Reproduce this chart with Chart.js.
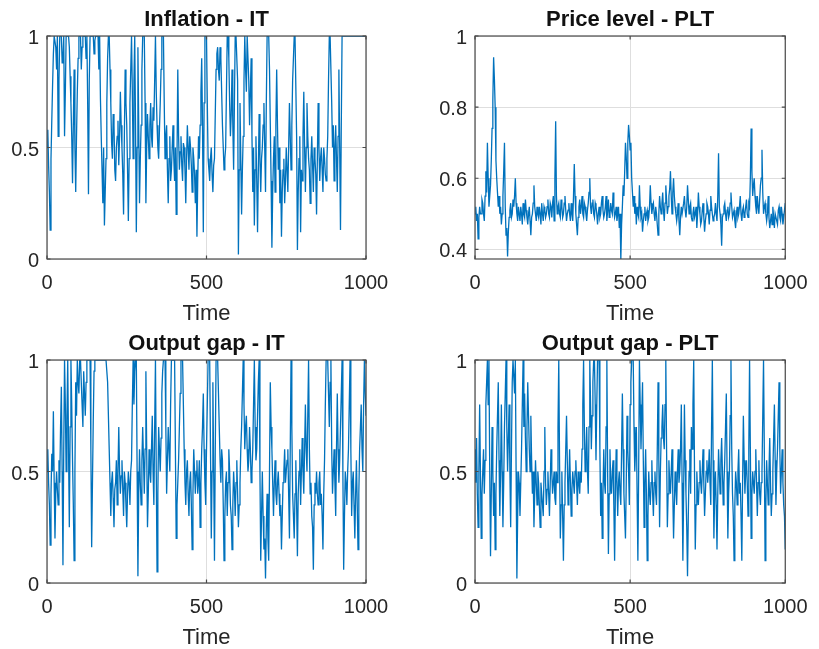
<!DOCTYPE html>
<html>
<head>
<meta charset="utf-8">
<script src="https://cdn.jsdelivr.net/npm/chart.js@4.4.1/dist/chart.umd.min.js"></script>
<style>
  html, body { margin: 0; padding: 0; background: #fff; width: 819px; height: 649px; overflow: hidden; }
  canvas { position: absolute; }
</style>
</head>
<body>
<canvas id="p1" width="410" height="330" style="left:0;top:0;width:410px;height:330px"></canvas>
<canvas id="p2" width="410" height="330" style="left:410px;top:0;width:410px;height:330px"></canvas>
<canvas id="p3" width="410" height="330" style="left:0;top:324px;width:410px;height:330px"></canvas>
<canvas id="p4" width="410" height="330" style="left:410px;top:324px;width:410px;height:330px"></canvas>
<script>
// Simulated paths, sampled every 2.5 periods from t = 0 to t = 1000 (one row = 50 periods)
const timeStep = 2.5;

const inflationIT = [
  0.5, 0.58, 0.42, 0.3, 0.13, 0.45, 0.62, 0.78, 0.92, 1, 1, 0.95, 0.85, 1, 0.55, 0.8, 1, 1, 1, 0.88,
  0.9, 1, 0.55, 0.75, 1, 1, 1, 1, 0.95, 0.82, 0.7, 0.55, 0.34, 0.6, 0.85, 0.5, 0.3, 0.55, 0.75, 0.9,
  1, 1, 1, 0.85, 0.95, 1, 1, 1, 1, 0.9, 1, 0.7, 0.29, 0.8, 1, 1, 1, 1, 1, 0.92,
  0.98, 1, 1, 1, 1, 0.85, 1, 0.72, 0.55, 0.4, 0.25, 0.5, 0.15, 0.3, 0.45, 0.7, 0.9, 1, 1, 0.85,
  0.7, 0.52, 0.45, 0.65, 0.6, 0.4, 0.35, 0.5, 0.55, 0.62, 0.42, 0.55, 0.75, 0.6, 0.5, 0.38, 0.2, 0.55, 0.85, 0.7,
  0.6, 0.4, 0.17, 0.45, 0.7, 0.85, 1, 0.75, 0.45, 0.8, 1, 0.6, 0.12, 0.5, 0.95, 0.6, 0.25, 0.45, 0.6, 0.85,
  1, 1, 1, 0.7, 0.25, 0.5, 0.65, 0.55, 0.45, 0.6, 0.7, 0.55, 0.5, 0.68, 0.62, 0.8, 1, 0.75, 0.6, 0.5,
  0.45, 0.58, 0.7, 0.85, 1, 1, 1, 0.7, 0.45, 0.55, 0.6, 0.4, 0.25, 0.45, 0.55, 0.35, 0.4, 0.5, 0.6, 0.45,
  0.35, 0.5, 0.2, 0.45, 0.85, 0.55, 0.4, 0.48, 0.55, 0.42, 0.35, 0.52, 0.5, 0.4, 0.25, 0.45, 0.6, 0.5, 0.4, 0.55,
  0.5, 0.42, 0.3, 0.5, 0.45, 0.38, 0.25, 0.4, 0.1, 0.35, 0.55, 0.45, 0.6, 0.75, 0.9, 0.6, 0.12, 0.7, 1, 1,
  1, 0.7, 0.45, 0.4, 0.35, 0.45, 0.5, 0.38, 0.3, 0.42, 0.45, 0.65, 0.85, 0.92, 0.95, 0.85, 0.8, 0.95, 0.9, 0.75,
  0.6, 0.5, 0.4, 0.45, 0.5, 0.75, 1, 1, 0.9, 0.7, 0.55, 0.65, 0.85, 0.6, 0.4, 0.7, 1, 1, 1, 0.8,
  0.02, 0.4, 0.7, 0.45, 0.2, 0.4, 0.55, 0.8, 1, 0.85, 0.75, 1, 1, 0.8, 0.6, 0.75, 0.9, 0.55, 0.3, 0.5,
  0.15, 0.4, 0.55, 0.35, 0.12, 0.4, 0.65, 0.45, 0.3, 0.45, 0.5, 0.6, 0.7, 0.5, 0.3, 0.7, 1, 1, 1, 0.85,
  0.6, 0.35, 0.05, 0.3, 0.45, 0.55, 0.3, 0.6, 0.85, 0.6, 0.4, 0.5, 0.25, 0.4, 0.1, 0.3, 0.4, 0.45, 0.25, 0.35,
  0.5, 0.4, 0.3, 0.5, 0.7, 0.55, 0.4, 0.6, 0.8, 0.9, 1, 1, 1, 0.55, 0.04, 0.3, 0.45, 0.55, 0.12, 0.4,
  0.35, 0.55, 0.75, 0.5, 0.3, 0.5, 0.7, 0.55, 0.45, 0.4, 0.25, 0.45, 0.55, 0.42, 0.3, 0.5, 0.45, 0.38, 0.2, 0.45,
  0.7, 0.5, 0.35, 0.45, 0.5, 0.4, 0.3, 0.5, 0.45, 0.38, 0.35, 0.45, 0.55, 0.8, 1, 1, 1, 0.7, 0.5, 0.6,
  0.35, 0.5, 0.6, 0.45, 0.3, 0.55, 0.85, 0.5, 0.13, 0.6, 1, 1, 1, 1, 1, 1, 1, 1, 1, 1,
  1, 1, 1, 1, 1, 1, 1, 1, 1, 1, 1, 1, 1, 1, 1, 1, 1, 1, 1, 1,
  1
];

const priceLevelPLT = [
  0.5, 0.52, 0.48, 0.5, 0.43, 0.49, 0.52, 0.5, 0.5, 0.54, 0.53, 0.5, 0.48, 0.55, 0.62, 0.56, 0.7, 0.6, 0.52, 0.55,
  0.58, 0.65, 0.74, 0.82, 0.94, 0.88, 0.8, 0.65, 0.6, 0.56, 0.52, 0.55, 0.5, 0.52, 0.47, 0.5, 0.55, 0.62, 0.7, 0.52,
  0.44, 0.46, 0.38, 0.45, 0.49, 0.51, 0.53, 0.49, 0.5, 0.54, 0.52, 0.55, 0.6, 0.53, 0.5, 0.48, 0.52, 0.5, 0.48, 0.52,
  0.5, 0.47, 0.53, 0.5, 0.49, 0.54, 0.51, 0.49, 0.47, 0.5, 0.52, 0.48, 0.44, 0.49, 0.5, 0.53, 0.58, 0.52, 0.5, 0.48,
  0.52, 0.5, 0.49, 0.52, 0.5, 0.47, 0.53, 0.5, 0.48, 0.52, 0.51, 0.49, 0.5, 0.52, 0.54, 0.5, 0.49, 0.53, 0.52, 0.49,
  0.53, 0.55, 0.48, 0.6, 0.76, 0.55, 0.5, 0.52, 0.53, 0.5, 0.49, 0.54, 0.52, 0.49, 0.5, 0.53, 0.55, 0.51, 0.48, 0.5,
  0.51, 0.53, 0.5, 0.48, 0.53, 0.5, 0.48, 0.55, 0.64, 0.55, 0.5, 0.47, 0.44, 0.49, 0.52, 0.54, 0.5, 0.52, 0.55, 0.5,
  0.49, 0.53, 0.52, 0.5, 0.48, 0.51, 0.53, 0.56, 0.6, 0.52, 0.5, 0.53, 0.54, 0.5, 0.49, 0.53, 0.52, 0.5, 0.47, 0.5,
  0.52, 0.49, 0.5, 0.53, 0.55, 0.51, 0.49, 0.5, 0.52, 0.55, 0.48, 0.51, 0.54, 0.49, 0.5, 0.53, 0.51, 0.5, 0.56, 0.52,
  0.49, 0.5, 0.52, 0.48, 0.5, 0.52, 0.46, 0.5, 0.37, 0.47, 0.52, 0.58, 0.55, 0.62, 0.7, 0.66, 0.6, 0.7, 0.75, 0.72,
  0.68, 0.7, 0.6, 0.56, 0.52, 0.55, 0.5, 0.53, 0.47, 0.52, 0.5, 0.49, 0.58, 0.52, 0.49, 0.5, 0.45, 0.48, 0.5, 0.52,
  0.48, 0.5, 0.51, 0.48, 0.49, 0.52, 0.58, 0.53, 0.5, 0.52, 0.53, 0.5, 0.48, 0.52, 0.5, 0.47, 0.44, 0.5, 0.55, 0.52,
  0.5, 0.53, 0.56, 0.51, 0.48, 0.53, 0.58, 0.54, 0.5, 0.52, 0.55, 0.57, 0.62, 0.55, 0.5, 0.56, 0.6, 0.55, 0.52, 0.5,
  0.48, 0.5, 0.53, 0.48, 0.44, 0.49, 0.52, 0.5, 0.5, 0.53, 0.55, 0.51, 0.49, 0.52, 0.58, 0.54, 0.5, 0.52, 0.53, 0.49,
  0.48, 0.5, 0.52, 0.49, 0.5, 0.52, 0.46, 0.5, 0.56, 0.52, 0.5, 0.47, 0.48, 0.51, 0.53, 0.49, 0.45, 0.48, 0.5, 0.53,
  0.52, 0.5, 0.47, 0.51, 0.55, 0.52, 0.5, 0.48, 0.49, 0.5, 0.53, 0.5, 0.48, 0.55, 0.67, 0.52, 0.5, 0.47, 0.41, 0.49,
  0.5, 0.52, 0.53, 0.5, 0.48, 0.51, 0.52, 0.49, 0.5, 0.53, 0.56, 0.52, 0.49, 0.5, 0.51, 0.48, 0.46, 0.5, 0.52, 0.49,
  0.5, 0.52, 0.55, 0.5, 0.48, 0.51, 0.52, 0.49, 0.5, 0.52, 0.54, 0.5, 0.49, 0.53, 0.52, 0.6, 0.74, 0.62, 0.55, 0.58,
  0.6, 0.55, 0.52, 0.5, 0.55, 0.52, 0.5, 0.54, 0.58, 0.6, 0.68, 0.56, 0.5, 0.52, 0.53, 0.5, 0.48, 0.5, 0.55, 0.49,
  0.46, 0.48, 0.5, 0.47, 0.52, 0.49, 0.46, 0.5, 0.5, 0.48, 0.47, 0.51, 0.52, 0.49, 0.48, 0.52, 0.5, 0.47, 0.49, 0.51,
  0.53
];

const outputGapIT = [
  0.5, 0.6, 0.45, 0.35, 0.17, 0.4, 0.58, 0.5, 0.77, 0.45, 0.2, 0.4, 0.5, 0.42, 0.35, 0.55, 0.45, 0.7, 0.88, 0.5,
  0.08, 0.6, 1, 0.8, 0.5, 0.75, 1, 0.6, 0.25, 0.7, 1, 0.8, 0.55, 0.35, 0.1, 0.5, 0.9, 0.75, 1, 0.9,
  0.85, 1, 1, 0.9, 0.8, 0.7, 0.95, 0.85, 0.75, 0.9, 1, 1, 1, 1, 1, 0.6, 0.16, 0.45, 0.73, 0.95,
  1, 1, 1, 1, 1, 1, 1, 1, 1, 1, 1, 1, 1, 1, 1, 1, 0.9, 0.75, 0.6, 0.45,
  0.3, 0.45, 0.5, 0.38, 0.25, 0.42, 0.45, 0.55, 0.35, 0.5, 0.7, 0.5, 0.4, 0.48, 0.55, 0.42, 0.3, 0.5, 0.45, 0.35,
  0.25, 0.4, 0.5, 0.45, 0.35, 0.5, 0.55, 0.8, 1, 0.8, 0.95, 1, 1, 0.5, 0.03, 0.4, 0.6, 0.45, 0.35, 0.55,
  0.7, 0.55, 0.4, 0.6, 0.95, 0.6, 0.25, 0.4, 0.6, 0.5, 0.45, 0.6, 0.75, 0.5, 0.35, 0.7, 1, 0.5, 0.05, 0.4,
  0.7, 0.6, 0.5, 0.65, 0.85, 0.95, 1, 1, 1, 0.7, 0.4, 0.55, 0.7, 0.6, 0.5, 0.8, 1, 1, 1, 1,
  1, 0.6, 0.2, 0.35, 0.45, 0.55, 0.7, 0.85, 1, 1, 1, 0.8, 0.6, 0.45, 0.35, 0.5, 0.55, 0.4, 0.3, 0.45,
  0.5, 0.35, 0.15, 0.4, 0.6, 0.5, 0.4, 0.5, 0.55, 0.4, 0.45, 0.55, 0.25, 0.45, 0.6, 0.7, 0.85, 0.6, 0.45, 0.35,
  0.6, 0.8, 1, 1, 1, 0.6, 0.2, 0.5, 0.9, 0.5, 0.1, 0.6, 1, 1, 1, 0.85, 0.7, 0.55, 0.45, 0.6,
  0.55, 0.35, 0.1, 0.3, 0.45, 0.5, 0.3, 0.45, 0.6, 0.5, 0.35, 0.3, 0.15, 0.35, 0.5, 0.42, 0.3, 0.45, 0.55, 0.4,
  0.25, 0.35, 0.45, 0.6, 0.7, 0.85, 1, 0.8, 0.6, 0.7, 0.75, 0.6, 0.5, 0.55, 0.7, 0.6, 0.45, 0.5, 0.6, 0.8,
  1, 0.7, 0.55, 0.6, 0.75, 0.9, 1, 0.5, 0.1, 0.3, 0.5, 0.3, 0.15, 0.2, 0.02, 0.25, 0.4, 0.2, 0.1, 0.5,
  0.9, 0.7, 0.6, 0.45, 0.3, 0.45, 0.55, 0.4, 0.35, 0.45, 0.5, 0.4, 0.3, 0.35, 0.15, 0.3, 0.45, 0.5, 0.6, 0.45,
  0.5, 0.55, 0.6, 0.4, 0.2, 0.6, 1, 0.7, 0.4, 0.3, 0.2, 0.4, 0.55, 0.35, 0.12, 0.4, 0.5, 0.6, 0.35, 0.5,
  0.65, 0.5, 0.4, 0.6, 0.8, 0.6, 0.5, 0.75, 1, 0.6, 0.4, 0.45, 0.3, 0.25, 0.06, 0.35, 0.45, 0.4, 0.5, 0.4,
  0.35, 0.45, 0.5, 0.35, 0.4, 0.3, 0.15, 0.4, 0.55, 0.8, 1, 1, 1, 0.85, 0.7, 0.9, 1, 0.6, 0.4, 0.5,
  0.6, 0.45, 0.3, 0.6, 0.85, 0.6, 0.45, 0.55, 0.7, 0.85, 1, 0.5, 0.06, 0.3, 0.5, 0.45, 0.35, 0.5, 0.6, 0.8,
  1, 0.6, 0.3, 0.45, 0.5, 0.35, 0.2, 0.4, 0.55, 0.35, 0.15, 0.4, 0.6, 0.7, 0.8, 0.6, 0.5, 0.8, 1, 0.85,
  0.75
];

const outputGapPLT = [
  0.6, 0.45, 0.65, 0.4, 0.25, 0.5, 0.8, 0.5, 0.2, 0.4, 0.5, 0.6, 0.4, 0.55, 0.8, 0.9, 1, 0.8, 1, 0.5,
  0.12, 0.4, 0.7, 0.5, 0.3, 0.45, 0.15, 0.4, 0.6, 0.75, 0.9, 0.55, 0.3, 0.5, 0.8, 0.5, 0.25, 0.45, 0.7, 0.85,
  1, 0.7, 0.5, 0.65, 0.8, 0.5, 0.25, 0.6, 0.9, 1, 1, 0.85, 1, 0.5, 0.02, 0.3, 0.5, 0.45, 0.3, 0.45,
  0.6, 0.8, 1, 0.7, 0.85, 0.65, 0.5, 0.7, 0.9, 0.75, 0.6, 0.5, 0.75, 0.55, 0.4, 0.5, 0.25, 0.4, 0.55, 0.45,
  0.35, 0.5, 0.45, 0.35, 0.25, 0.45, 0.4, 0.35, 0.3, 0.5, 0.7, 0.45, 0.35, 0.42, 0.5, 0.4, 0.3, 0.45, 0.6, 0.5,
  0.4, 0.45, 0.5, 0.38, 0.35, 0.5, 0.45, 0.7, 1, 0.55, 0.2, 0.35, 0.5, 0.3, 0.1, 0.35, 0.45, 0.6, 0.75, 0.55,
  0.35, 0.45, 0.6, 0.45, 0.3, 0.42, 0.5, 0.45, 0.4, 0.5, 0.55, 0.45, 0.35, 0.5, 0.45, 0.4, 0.5, 0.45, 0.6, 0.8,
  1, 0.7, 0.5, 0.55, 0.7, 0.5, 0.4, 0.7, 1, 0.8, 0.6, 0.75, 0.9, 1, 1, 0.8, 0.55, 0.8, 1, 1,
  1, 0.6, 0.3, 0.45, 0.2, 0.4, 0.6, 0.45, 0.4, 0.7, 1, 0.5, 0.13, 0.4, 0.6, 0.45, 0.4, 0.5, 0.55, 0.35,
  0.1, 0.4, 0.6, 0.45, 0.3, 0.45, 0.5, 0.4, 0.35, 0.6, 0.85, 0.6, 0.4, 0.3, 0.2, 0.45, 0.75, 0.6, 0.5, 0.35,
  0.8, 0.9, 1, 1, 1, 0.7, 0.5, 0.6, 0.7, 0.4, 0.1, 0.5, 1, 0.8, 0.6, 0.75, 0.9, 0.55, 0.25, 0.45,
  0.6, 0.4, 0.1, 0.3, 0.5, 0.4, 0.35, 0.45, 0.55, 0.4, 0.3, 0.45, 0.5, 0.4, 0.35, 0.6, 0.9, 0.55, 0.25, 0.5,
  0.65, 0.7, 0.8, 0.65, 0.6, 0.8, 1, 0.6, 0.25, 0.4, 0.55, 0.45, 0.4, 0.5, 0.6, 0.4, 0.2, 0.35, 0.5, 0.42,
  0.35, 0.5, 0.6, 0.45, 0.5, 0.6, 0.8, 0.45, 0.1, 0.4, 0.8, 0.55, 0.4, 0.25, 0.03, 0.3, 0.5, 0.6, 0.4, 0.7,
  0.6, 0.8, 1, 0.5, 0.15, 0.35, 0.5, 0.4, 0.35, 0.45, 0.55, 0.45, 0.4, 0.5, 0.6, 0.45, 0.3, 0.4, 0.5, 0.55,
  0.45, 0.5, 0.6, 0.45, 0.35, 0.7, 1, 0.55, 0.2, 0.4, 0.5, 0.35, 0.15, 0.4, 0.6, 0.5, 0.4, 0.55, 0.65, 0.5,
  0.35, 0.45, 0.55, 0.7, 0.85, 0.5, 0.2, 0.4, 0.5, 0.75, 1, 0.6, 0.4, 0.3, 0.1, 0.35, 0.5, 0.45, 0.35, 0.5,
  0.6, 0.4, 0.45, 0.3, 0.1, 0.45, 0.75, 0.55, 0.4, 0.5, 0.55, 0.45, 0.3, 0.6, 1, 0.6, 0.2, 0.4, 0.5, 0.45,
  0.4, 0.5, 0.6, 0.45, 0.3, 0.45, 0.55, 0.4, 0.35, 0.45, 0.5, 0.75, 1, 0.6, 0.1, 0.35, 0.55, 0.45, 0.35, 0.5,
  0.65, 0.45, 0.3, 0.4, 0.5, 0.65, 0.8, 0.55, 0.35, 0.5, 0.6, 0.75, 0.9, 0.6, 0.4, 0.5, 0.6, 0.45, 0.35, 0.3,
  0.15
];

// Axis ticks
const timeTicks = [0, 500, 1000];
const timeTickLabels = ['0', '500', '1000'];
const unitTicks = [0, 0.5, 1];
const unitTickLabels = ['0', '0.5', '1'];
const priceTicks = [0.4, 0.6, 0.8, 1];
const priceTickLabels = ['0.4', '0.6', '0.8', '1'];

const FONT = "'Liberation Sans', Arial, Helvetica, sans-serif";
const TEXT = '#262626';
const LINE = '#0072BD';
const GRID = '#dedede';

// Axes box with short inward tick marks on all four sides
const axesBox = {
  id: 'axesBox',
  afterDatasetsDraw(chart) {
    const { ctx, chartArea: a, scales: { x, y } } = chart;
    const len = 3.5;
    ctx.save();
    ctx.strokeStyle = '#4a4a4a';
    ctx.lineWidth = 1.2;
    ctx.beginPath();
    x.ticks.forEach(t => {
      const px = x.getPixelForValue(t.value);
      ctx.moveTo(px, a.bottom); ctx.lineTo(px, a.bottom - len);
      ctx.moveTo(px, a.top); ctx.lineTo(px, a.top + len);
    });
    y.ticks.forEach(t => {
      const py = y.getPixelForValue(t.value);
      ctx.moveTo(a.left, py); ctx.lineTo(a.left + len, py);
      ctx.moveTo(a.right, py); ctx.lineTo(a.right - len, py);
    });
    ctx.stroke();
    ctx.strokeRect(a.left, a.top, a.right - a.left, a.bottom - a.top);
    ctx.restore();
  }
};

function panel(id, title, values, yMin, yTicks, yLabels, layout) {
  const points = values.map((v, i) => ({ x: i * timeStep, y: v }));
  new Chart(document.getElementById(id), {
    type: 'line',
    data: {
      datasets: [{
        data: points,
        borderColor: LINE,
        borderWidth: 1.3,
        pointRadius: 0,
        tension: 0,
        fill: false
      }]
    },
    options: {
      responsive: false,
      animation: false,
      events: [],
      layout: { padding: { left: 0, right: layout.right, top: 0, bottom: 0 } },
      plugins: {
        legend: { display: false },
        tooltip: { enabled: false },
        title: {
          display: true,
          text: title,
          fullSize: false,
          color: '#111',
          font: { family: FONT, size: 22, weight: 'bold' },
          padding: { top: 7.2, bottom: 2.4 }
        }
      },
      scales: {
        x: {
          type: 'linear',
          min: 0,
          max: 1000,
          afterBuildTicks: s => { s.ticks = timeTicks.map(v => ({ value: v })); },
          afterFit: s => { s.height = 71; },
          grid: { color: GRID, lineWidth: 1, drawTicks: false },
          border: { display: false },
          ticks: {
            autoSkip: false, maxRotation: 0, padding: 12.5,
            color: TEXT, font: { family: FONT, size: 20 },
            callback: (v, i) => timeTickLabels[i]
          },
          title: {
            display: true, text: 'Time', color: TEXT,
            font: { family: FONT, size: 22 },
            padding: { top: 0, bottom: 2.8 }
          }
        },
        y: {
          type: 'linear',
          min: yMin,
          max: 1,
          afterBuildTicks: s => { s.ticks = yTicks.map(v => ({ value: v })); },
          afterFit: s => { s.width = layout.yWidth; },
          grid: { color: GRID, lineWidth: 1, drawTicks: false },
          border: { display: false },
          ticks: {
            padding: 8, labelOffset: 2.5,
            color: TEXT, font: { family: FONT, size: 20 },
            callback: (v, i) => yLabels[i]
          }
        }
      }
    },
    plugins: [axesBox]
  });
}

const leftCol = { yWidth: 47, right: 44 };
const rightCol = { yWidth: 65, right: 26 };

panel('p1', 'Inflation - IT', inflationIT, 0, unitTicks, unitTickLabels, leftCol);
panel('p2', 'Price level - PLT', priceLevelPLT, 0.373, priceTicks, priceTickLabels, rightCol);
panel('p3', 'Output gap - IT', outputGapIT, 0, unitTicks, unitTickLabels, leftCol);
panel('p4', 'Output gap - PLT', outputGapPLT, 0, unitTicks, unitTickLabels, rightCol);
</script>
</body>
</html>
